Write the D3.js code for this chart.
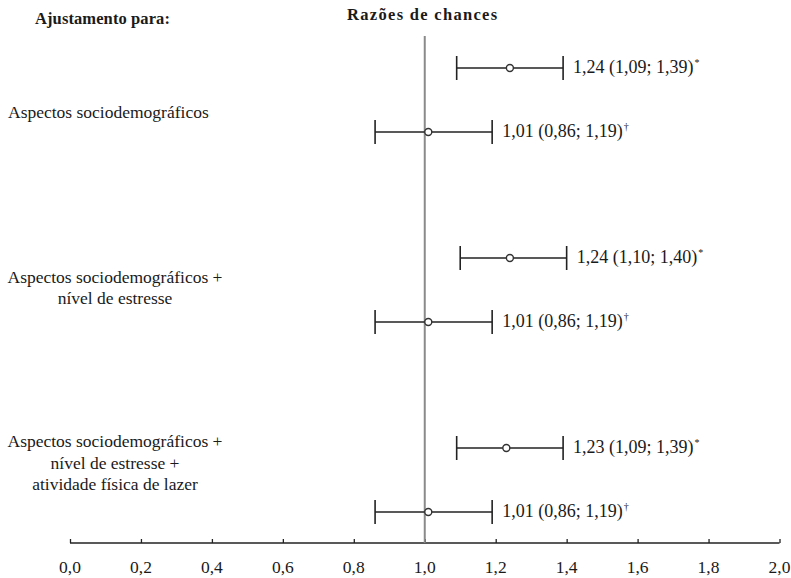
<!DOCTYPE html>
<html>
<head>
<meta charset="utf-8">
<script src="https://cdn.jsdelivr.net/npm/d3@7"></script>
</head>
<body style="margin:0">
<svg id="chart" width="791" height="578"></svg>
<script>
// ---- Data ----
const groupLabels = [
  ["Aspectos sociodemográficos"],
  ["Aspectos sociodemográficos +", "nível de estresse"],
  ["Aspectos sociodemográficos +", "nível de estresse +", "atividade física de lazer"]
];
const rowGroup = [0, 0, 1, 1, 2, 2];
const rowIndex = [0, 1, 0, 1, 0, 1];
const oddsRatio = [1.24, 1.01, 1.24, 1.01, 1.23, 1.01];
const lowerCI   = [1.09, 0.86, 1.10, 0.86, 1.09, 0.86];
const upperCI   = [1.39, 1.19, 1.40, 1.19, 1.39, 1.19];
const sigMark   = ["*", "†", "*", "†", "*", "†"];
const xTicks    = [0, 0.2, 0.4, 0.6, 0.8, 1.0, 1.2, 1.4, 1.6, 1.8, 2.0];
const leftTitle = "Ajustamento para:";
const axisTitle = "Razões de chances";

const INK = "#1a1a1a";
const fmt = v => d3.format(".2f")(v).replace(".", ",");
const fmtTick = v => d3.format(".1f")(v).replace(".", ",");

const svg = d3.select("#chart");
function txt(sel, size, bold) {
  sel.style("font-family", "Liberation Serif").style("font-size", size + "px").attr("fill", INK);
  if (bold) sel.style("font-weight", "bold");
}

const x = d3.scaleLinear().domain([0, 2]).range([70, 779.5]);
const gY = d3.scaleBand().domain([0, 1, 2]).range([5, 575]);
const rY = d3.scalePoint().domain([0, 1]).range([-32, 32]);
const yOf = i => gY(rowGroup[i]) + gY.bandwidth() / 2 + rY(rowIndex[i]);
const labelY = d3.scaleLinear().domain([0, 2]).range([118, 447]);

// Titles
svg.append("text").attr("x", 35).attr("y", 24).call(txt, 16.5, true)
  .style("letter-spacing", "0.1px").text(leftTitle);
svg.append("text").attr("x", x(1) - 2).attr("y", 20).attr("text-anchor", "middle").call(txt, 16.5, true)
  .style("letter-spacing", "1.3px").text(axisTitle);

// Axis
const axisG = svg.append("g").attr("transform", "translate(0,543)")
  .call(d3.axisTop(x).tickValues(xTicks).tickSize(4).tickFormat(""));
axisG.select(".domain").attr("d", `M${x(0)},0H${x(2)}`).attr("stroke", "#222").attr("stroke-width", 1.6);
axisG.selectAll(".tick line").attr("stroke", "#222").attr("stroke-width", 1.3);
svg.append("g").selectAll("text").data(xTicks).join("text").call(txt, 17.5)
  .attr("x", d => x(d)).attr("y", 572.5).attr("text-anchor", "middle")
  .text(d => fmtTick(d));

// Reference line at 1
svg.append("line").attr("x1", x(1)).attr("x2", x(1)).attr("y1", 36).attr("y2", 543)
  .attr("stroke", "#8a8a8a").attr("stroke-width", 2);

// Group labels: single line starts at left margin, multi-line blocks centred
groupLabels.forEach((lines, gi) => {
  svg.append("g").selectAll("text").data(lines).join("text").call(txt, 17.5)
    .attr("x", lines.length === 1 ? 8 : 115)
    .attr("text-anchor", lines.length === 1 ? "start" : "middle")
    .attr("y", (d, k) => labelY(gi) + k * 21.5)
    .text(d => d);
});

// Error bars
const idx = d3.range(oddsRatio.length);
const bars = svg.append("g");
bars.selectAll("line.ci").data(idx).join("line").attr("class", "ci")
  .attr("x1", i => x(lowerCI[i])).attr("x2", i => x(upperCI[i]))
  .attr("y1", yOf).attr("y2", yOf).attr("stroke", "#222").attr("stroke-width", 1.6);
bars.selectAll("line.capL").data(idx).join("line").attr("class", "capL")
  .attr("x1", i => x(lowerCI[i])).attr("x2", i => x(lowerCI[i]))
  .attr("y1", i => yOf(i) - 12).attr("y2", i => yOf(i) + 12).attr("stroke", "#222").attr("stroke-width", 1.6);
bars.selectAll("line.capR").data(idx).join("line").attr("class", "capR")
  .attr("x1", i => x(upperCI[i])).attr("x2", i => x(upperCI[i]))
  .attr("y1", i => yOf(i) - 12).attr("y2", i => yOf(i) + 12).attr("stroke", "#222").attr("stroke-width", 1.6);
bars.selectAll("circle").data(idx).join("circle")
  .attr("cx", i => x(oddsRatio[i])).attr("cy", yOf).attr("r", 3.5)
  .attr("fill", "#fff").attr("stroke", "#333").attr("stroke-width", 1.4);

// Annotations
const ann = svg.append("g").selectAll("text").data(idx).join("text").call(txt, 18)
  .attr("x", i => x(upperCI[i]) + 10).attr("y", i => yOf(i) + 5);
ann.append("tspan").text(i => `${fmt(oddsRatio[i])} (${fmt(lowerCI[i])}; ${fmt(upperCI[i])})`);
ann.append("tspan").attr("dx", 1).attr("dy", -7).style("font-size", "10px").text(i => sigMark[i]);
</script>
</body>
</html>
